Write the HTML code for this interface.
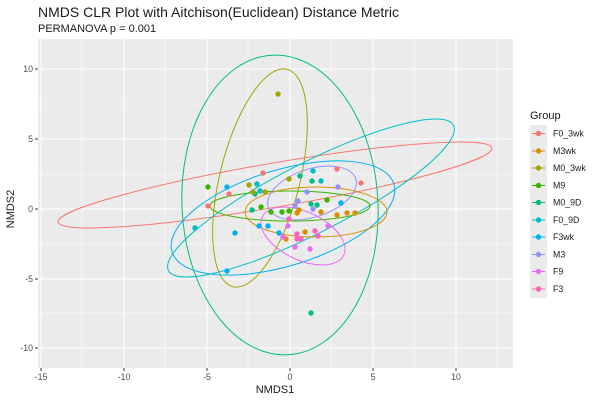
<!DOCTYPE html><html><head><style>body{margin:0;background:#fff}svg{font-family:"Liberation Sans","DejaVu Sans",sans-serif}</style></head><body>
<svg width="600" height="400" xmlns="http://www.w3.org/2000/svg">
<rect width="600" height="400" fill="#fff"/>
<text x="38" y="17" font-size="14" fill="#1a1a1a">NMDS CLR Plot with Aitchison(Euclidean) Distance Metric</text>
<text x="38" y="32" font-size="11" fill="#1a1a1a">PERMANOVA p = 0.001</text>
<rect x="38" y="39" width="475" height="329" fill="#ebebeb"/>
<g stroke="#fff" stroke-width="0.5">
<line x1="82" y1="39" x2="82" y2="368"/><line x1="165" y1="39" x2="165" y2="368"/><line x1="248" y1="39" x2="248" y2="368"/><line x1="331" y1="39" x2="331" y2="368"/><line x1="414" y1="39" x2="414" y2="368"/><line x1="497" y1="39" x2="497" y2="368"/>
<line x1="38" y1="104" x2="513" y2="104"/><line x1="38" y1="174" x2="513" y2="174"/><line x1="38" y1="244" x2="513" y2="244"/><line x1="38" y1="313" x2="513" y2="313"/>
</g>
<g stroke="#fff" stroke-width="1.1">
<line x1="41" y1="39" x2="41" y2="368"/><line x1="124" y1="39" x2="124" y2="368"/><line x1="207" y1="39" x2="207" y2="368"/><line x1="290" y1="39" x2="290" y2="368"/><line x1="373" y1="39" x2="373" y2="368"/><line x1="456" y1="39" x2="456" y2="368"/>
<line x1="38" y1="69" x2="513" y2="69"/><line x1="38" y1="139" x2="513" y2="139"/><line x1="38" y1="209" x2="513" y2="209"/><line x1="38" y1="279" x2="513" y2="279"/><line x1="38" y1="348" x2="513" y2="348"/>
</g>
<g fill="none" stroke-width="1">
<ellipse cx="275" cy="185" rx="220" ry="22" transform="rotate(-9.7 275 185)" stroke="#F8766D"/>
<ellipse cx="280" cy="205" rx="98" ry="150" transform="rotate(-3 280 205)" stroke="#00BF7D"/>
<ellipse cx="260" cy="178" rx="40" ry="112" transform="rotate(14 260 178)" stroke="#A3A500"/>
<ellipse cx="311" cy="198" rx="160" ry="35" transform="rotate(-27 311 198)" stroke="#00BFC4"/>
<ellipse cx="283" cy="218" rx="116" ry="48" transform="rotate(-17 283 218)" stroke="#00B0F6"/>
<ellipse cx="290" cy="206" rx="80" ry="15" stroke="#39B600"/>
<ellipse cx="316" cy="212" rx="71" ry="25" stroke="#D89000"/>
<ellipse cx="312" cy="193" rx="46" ry="24" transform="rotate(-18 312 193)" stroke="#9590FF"/>
<ellipse cx="303" cy="236" rx="45" ry="24" transform="rotate(25 303 236)" stroke="#E76BF3"/>
</g>
<g r="2.7">
<g fill="#F8766D"><circle cx="263" cy="173" r="2.7"/><circle cx="337" cy="169" r="2.7"/><circle cx="361" cy="183" r="2.7"/><circle cx="229" cy="194" r="2.7"/><circle cx="208" cy="206" r="2.7"/></g>
<g fill="#00BFC4"><circle cx="313" cy="171" r="2.7"/><circle cx="321" cy="181" r="2.7"/><circle cx="257" cy="184" r="2.7"/><circle cx="260" cy="191" r="2.7"/><circle cx="195" cy="228" r="2.7"/></g>
<g fill="#00BF7D"><circle cx="300" cy="176" r="2.7"/><circle cx="312" cy="181" r="2.7"/><circle cx="255" cy="194" r="2.7"/><circle cx="252" cy="210" r="2.7"/><circle cx="311" cy="204" r="2.7"/><circle cx="317" cy="205" r="2.7"/><circle cx="311" cy="313" r="2.7"/></g>
<g fill="#39B600"><circle cx="208" cy="187" r="2.7"/><circle cx="327" cy="200" r="2.7"/><circle cx="261" cy="207" r="2.7"/><circle cx="271" cy="212" r="2.7"/><circle cx="282" cy="212" r="2.7"/><circle cx="289" cy="211" r="2.7"/></g>
<g fill="#A3A500"><circle cx="289" cy="179" r="2.7"/><circle cx="249" cy="185" r="2.7"/><circle cx="253" cy="192" r="2.7"/><circle cx="265" cy="192" r="2.7"/><circle cx="278" cy="94" r="2.7"/></g>
<g fill="#00B0F6"><circle cx="227" cy="187" r="2.7"/><circle cx="341" cy="203" r="2.7"/><circle cx="235" cy="233" r="2.7"/><circle cx="259" cy="226" r="2.7"/><circle cx="268" cy="226" r="2.7"/><circle cx="279" cy="233" r="2.7"/><circle cx="227" cy="271" r="2.7"/></g>
<g fill="#9590FF"><circle cx="338" cy="187" r="2.7"/><circle cx="307" cy="192" r="2.7"/><circle cx="298" cy="201" r="2.7"/><circle cx="313" cy="209" r="2.7"/><circle cx="295" cy="206" r="2.7"/></g>
<g fill="#D89000"><circle cx="299" cy="210" r="2.7"/><circle cx="297" cy="213" r="2.7"/><circle cx="321" cy="212" r="2.7"/><circle cx="337" cy="215" r="2.7"/><circle cx="347" cy="213" r="2.7"/><circle cx="355" cy="213" r="2.7"/><circle cx="305" cy="232" r="2.7"/><circle cx="286" cy="239" r="2.7"/></g>
<g fill="#E76BF3"><circle cx="288" cy="226" r="2.7"/><circle cx="328" cy="226" r="2.7"/><circle cx="295" cy="247" r="2.7"/><circle cx="310" cy="249" r="2.7"/><circle cx="283" cy="237" r="2.7"/></g>
<g fill="#FF62BC"><circle cx="289" cy="219" r="2.7"/><circle cx="315" cy="231" r="2.7"/><circle cx="318" cy="236" r="2.7"/><circle cx="297" cy="234" r="2.7"/><circle cx="297" cy="239" r="2.7"/><circle cx="301" cy="239" r="2.7"/></g>
</g>
<g stroke="#333" stroke-width="1">
<line x1="41" y1="368" x2="41" y2="371"/><line x1="124" y1="368" x2="124" y2="371"/><line x1="207" y1="368" x2="207" y2="371"/><line x1="290" y1="368" x2="290" y2="371"/><line x1="373" y1="368" x2="373" y2="371"/><line x1="456" y1="368" x2="456" y2="371"/>
<line x1="35" y1="69" x2="38" y2="69"/><line x1="35" y1="139" x2="38" y2="139"/><line x1="35" y1="209" x2="38" y2="209"/><line x1="35" y1="279" x2="38" y2="279"/><line x1="35" y1="348" x2="38" y2="348"/>
</g>
<g font-size="8.8" fill="#4d4d4d" text-anchor="middle">
<text x="41" y="380">-15</text><text x="124" y="380">-10</text><text x="207" y="380">-5</text><text x="290" y="380">0</text><text x="373" y="380">5</text><text x="456" y="380">10</text>
</g>
<g font-size="8.8" fill="#4d4d4d" text-anchor="end">
<text x="33" y="72">10</text><text x="33" y="142">5</text><text x="33" y="212">0</text><text x="33" y="282">-5</text><text x="33" y="351">-10</text>
</g>
<text x="275" y="393" font-size="11" text-anchor="middle" fill="#1a1a1a">NMDS1</text>
<text transform="translate(14 209) rotate(-90)" font-size="11" text-anchor="middle" fill="#1a1a1a">NMDS2</text>
<text x="530" y="119" font-size="11" fill="#1a1a1a">Group</text>
<rect x="530" y="125" width="17" height="173" fill="#ebebeb"/>
<g font-size="8.8" fill="#1a1a1a" stroke-width="1">
<g stroke="#F8766D"><line x1="532" y1="133.5" x2="545" y2="133.5"/></g><circle cx="538.5" cy="133.5" r="2.7" fill="#F8766D"/><text x="553" y="136.5">F0_3wk</text>
<g stroke="#D89000"><line x1="532" y1="151" x2="545" y2="151"/></g><circle cx="538.5" cy="151" r="2.7" fill="#D89000"/><text x="553" y="154">M3wk</text>
<g stroke="#A3A500"><line x1="532" y1="168" x2="545" y2="168"/></g><circle cx="538.5" cy="168" r="2.7" fill="#A3A500"/><text x="553" y="171">M0_3wk</text>
<g stroke="#39B600"><line x1="532" y1="185.5" x2="545" y2="185.5"/></g><circle cx="538.5" cy="185.5" r="2.7" fill="#39B600"/><text x="553" y="188.5">M9</text>
<g stroke="#00BF7D"><line x1="532" y1="202.5" x2="545" y2="202.5"/></g><circle cx="538.5" cy="202.5" r="2.7" fill="#00BF7D"/><text x="553" y="205.5">M0_9D</text>
<g stroke="#00BFC4"><line x1="532" y1="220" x2="545" y2="220"/></g><circle cx="538.5" cy="220" r="2.7" fill="#00BFC4"/><text x="553" y="223">F0_9D</text>
<g stroke="#00B0F6"><line x1="532" y1="237" x2="545" y2="237"/></g><circle cx="538.5" cy="237" r="2.7" fill="#00B0F6"/><text x="553" y="240">F3wk</text>
<g stroke="#9590FF"><line x1="532" y1="254.5" x2="545" y2="254.5"/></g><circle cx="538.5" cy="254.5" r="2.7" fill="#9590FF"/><text x="553" y="257.5">M3</text>
<g stroke="#E76BF3"><line x1="532" y1="271.5" x2="545" y2="271.5"/></g><circle cx="538.5" cy="271.5" r="2.7" fill="#E76BF3"/><text x="553" y="274.5">F9</text>
<g stroke="#FF62BC"><line x1="532" y1="289" x2="545" y2="289"/></g><circle cx="538.5" cy="289" r="2.7" fill="#FF62BC"/><text x="553" y="292">F3</text>
</g>
</svg>
</body></html>
